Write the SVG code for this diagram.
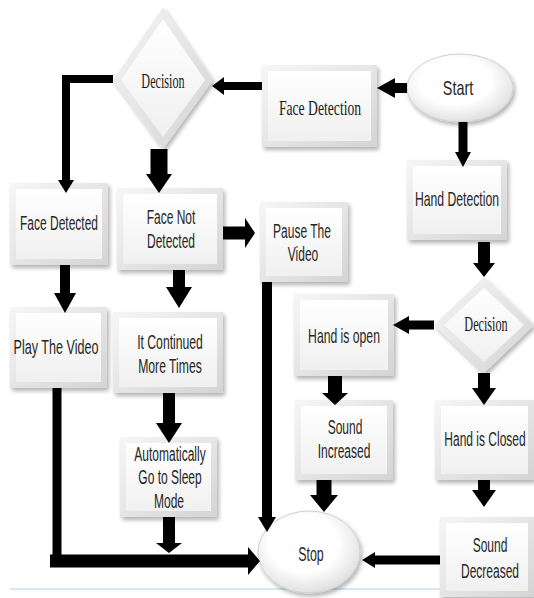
<svg xmlns="http://www.w3.org/2000/svg" width="534" height="598" viewBox="0 0 534 598">
<defs>
  <linearGradient id="edge" x1="0" y1="0" x2="1" y2="1">
    <stop offset="0" stop-color="#f6f6f6"/>
    <stop offset="1" stop-color="#d4d4d4"/>
  </linearGradient>
  <linearGradient id="face" x1="0" y1="0" x2="0" y2="1">
    <stop offset="0" stop-color="#ffffff"/>
    <stop offset="1" stop-color="#f0f0f0"/>
  </linearGradient>
  <radialGradient id="oval" cx="0.45" cy="0.4" r="0.62">
    <stop offset="0.55" stop-color="#ffffff"/>
    <stop offset="1" stop-color="#dedede"/>
  </radialGradient>
  <filter id="sh" x="-15%" y="-15%" width="135%" height="140%">
    <feGaussianBlur in="SourceAlpha" stdDeviation="2"/>
    <feOffset dx="2" dy="3" result="o"/>
    <feComponentTransfer><feFuncA type="linear" slope="0.3"/></feComponentTransfer>
    <feMerge><feMergeNode/><feMergeNode in="SourceGraphic"/></feMerge>
  </filter>
</defs>
<style>
  .edge{fill:url(#edge);filter:url(#sh)}
  .face{fill:url(#face)}
  .oval{fill:url(#oval);stroke:#d0d0d0;stroke-width:1;filter:url(#sh)}
  .t{font-family:"Liberation Sans",Arial,sans-serif;font-size:20px;fill:#262626;text-anchor:middle}
  .s{font-family:"Liberation Serif","Times New Roman",serif;font-size:21px;fill:#1a1a1a;text-anchor:middle}
  .shaft{stroke:#000;fill:none;stroke-linejoin:miter}
  .head{fill:#000}
</style>
<rect width="534" height="598" fill="#ffffff"/>
<line x1="10" y1="589" x2="534" y2="589" stroke="#cfdfe8" stroke-width="1.5"/>

<g id="decision1">
  <polygon class="edge" points="163,7 213,80 163,149 113,80"/>
  <polygon class="face" points="163,19 205,80 163,137 121,80"/>
  <text class="s" transform="translate(163,88) scale(0.58,1)">Decision</text>
</g>
<g id="face-detection">
  <rect class="edge" x="262" y="65" width="115" height="82"/>
  <rect class="face" x="268" y="71" width="103" height="70"/>
  <text class="s" transform="translate(320,115) scale(0.65,1)">Face Detection</text>
</g>
<g id="start">
  <ellipse class="oval" cx="460" cy="88" rx="53" ry="34"/>
  <text class="t" transform="translate(458,95) scale(0.72,1)">Start</text>
</g>
<g id="hand-detection">
  <rect class="edge" x="407" y="160" width="100" height="80"/>
  <rect class="face" x="413" y="166" width="88" height="68"/>
  <text class="t" transform="translate(457,206) scale(0.61,1)">Hand Detection</text>
</g>
<g id="decision2">
  <polygon class="edge" points="484,277 534,325 484,373 434,325"/>
  <polygon class="face" points="484,288 524,325 484,362 444,325"/>
  <text class="s" transform="translate(486,331) scale(0.58,1)">Decision</text>
</g>
<g id="face-detected">
  <rect class="edge" x="10" y="183" width="98" height="82"/>
  <rect class="face" x="16" y="189" width="86" height="70"/>
  <text class="t" transform="translate(59,230) scale(0.6,1)">Face Detected</text>
</g>
<g id="face-not-detected">
  <rect class="edge" x="117" y="188" width="106" height="82"/>
  <rect class="face" x="123" y="194" width="94" height="70"/>
  <text class="t" transform="translate(171,224) scale(0.6,1)">Face Not</text>
  <text class="t" transform="translate(171,248) scale(0.6,1)">Detected</text>
</g>
<g id="pause-video">
  <rect class="edge" x="260" y="202" width="88" height="80"/>
  <rect class="face" x="266" y="208" width="76" height="68"/>
  <text class="t" transform="translate(302,238) scale(0.6,1)">Pause The</text>
  <text class="t" transform="translate(303,261) scale(0.6,1)">Video</text>
</g>
<g id="play-video">
  <rect class="edge" x="10" y="307" width="97" height="81"/>
  <rect class="face" x="16" y="313" width="85" height="69"/>
  <text class="t" transform="translate(56,354) scale(0.63,1)">Play The Video</text>
</g>
<g id="it-continued">
  <rect class="edge" x="113" y="312" width="110" height="81"/>
  <rect class="face" x="119" y="318" width="98" height="69"/>
  <text class="t" transform="translate(170,349) scale(0.61,1)">It Continued</text>
  <text class="t" transform="translate(170,373) scale(0.61,1)">More Times</text>
</g>
<g id="sleep-mode">
  <rect class="edge" x="120" y="437" width="97" height="80"/>
  <rect class="face" x="126" y="443" width="85" height="68"/>
  <text class="t" transform="translate(170,461) scale(0.6,1)">Automatically</text>
  <text class="t" transform="translate(170,484) scale(0.6,1)">Go to Sleep</text>
  <text class="t" transform="translate(169,508) scale(0.6,1)">Mode</text>
</g>
<g id="hand-open">
  <rect class="edge" x="294" y="294" width="100" height="82"/>
  <rect class="face" x="300" y="300" width="88" height="70"/>
  <text class="t" transform="translate(344,343) scale(0.61,1)">Hand is open</text>
</g>
<g id="sound-increased">
  <rect class="edge" x="295" y="400" width="98" height="80"/>
  <rect class="face" x="301" y="406" width="86" height="68"/>
  <text class="t" transform="translate(345,434) scale(0.6,1)">Sound</text>
  <text class="t" transform="translate(344,458) scale(0.6,1)">Increased</text>
</g>
<g id="hand-closed">
  <rect class="edge" x="435" y="400" width="99" height="80"/>
  <rect class="face" x="441" y="406" width="87" height="68"/>
  <text class="t" transform="translate(485,446) scale(0.6,1)">Hand is Closed</text>
</g>
<g id="sound-decreased">
  <rect class="edge" x="440" y="517" width="94" height="80"/>
  <rect class="face" x="446" y="523" width="82" height="68"/>
  <text class="t" transform="translate(490,552) scale(0.6,1)">Sound</text>
  <text class="t" transform="translate(490,578) scale(0.6,1)">Decreased</text>
</g>
<g id="stop">
  <ellipse class="oval" cx="309" cy="552" rx="51" ry="41"/>
  <text class="t" transform="translate(311,561) scale(0.62,1)">Stop</text>
</g>

<g id="connectors">
  <path class="shaft" stroke-width="10" d="M407,88 H393"/>
  <polygon class="head" points="395,78 395,98 377,88"/>
  <path class="shaft" stroke-width="8" d="M262,86 H222"/>
  <polygon class="head" points="224,77 224,95 212,86"/>
  <path class="shaft" stroke-width="8" d="M113,79 H66 V182"/>
  <polygon class="head" points="58,180 74,180 66,193"/>
  <path class="shaft" stroke-width="17" d="M159,149 V175"/>
  <polygon class="head" points="146,174 172,174 159,193"/>
  <path class="shaft" stroke-width="9" d="M463,122 V153"/>
  <polygon class="head" points="455,152 471,152 463,167"/>
  <path class="shaft" stroke-width="12" d="M484,242 V264"/>
  <polygon class="head" points="473,263 495,263 484,277"/>
  <path class="shaft" stroke-width="9" d="M434,325 H407"/>
  <polygon class="head" points="409,316 409,334 393,325"/>
  <path class="shaft" stroke-width="12" d="M484,373 V389"/>
  <polygon class="head" points="472,388 496,388 484,405"/>
  <path class="shaft" stroke-width="14" d="M335,376 V394"/>
  <polygon class="head" points="322,393 348,393 335,405"/>
  <path class="shaft" stroke-width="15" d="M324,480 V496"/>
  <polygon class="head" points="310,495 338,495 324,512"/>
  <path class="shaft" stroke-width="12" d="M484,480 V491"/>
  <polygon class="head" points="472,490 496,490 484,507"/>
  <path class="shaft" stroke-width="9" d="M440,560 H373"/>
  <polygon class="head" points="375,552 375,568 362,560"/>
  <path class="shaft" stroke-width="10" d="M267,282 V518"/>
  <polygon class="head" points="258,517 276,517 267,532"/>
  <path class="shaft" stroke-width="13" d="M223,233 H246"/>
  <polygon class="head" points="245,218 245,248 255,233"/>
  <path class="shaft" stroke-width="10" d="M65,265 V294"/>
  <polygon class="head" points="54,293 76,293 65,313"/>
  <path class="shaft" stroke-width="12" d="M179,270 V288"/>
  <polygon class="head" points="166,287 192,287 179,308"/>
  <path class="shaft" stroke-width="12" d="M169,393 V424"/>
  <polygon class="head" points="156,423 182,423 169,443"/>
  <path class="shaft" stroke-width="12" d="M169,517 V544"/>
  <polygon class="head" points="156,543 182,543 169,553"/>
  <path class="shaft" stroke-width="9" d="M57,388 V561"/>
  <path class="shaft" stroke-width="13" d="M50,561 H249"/>
  <polygon class="head" points="248,547 248,575 260,561"/>
</g>
</svg>
